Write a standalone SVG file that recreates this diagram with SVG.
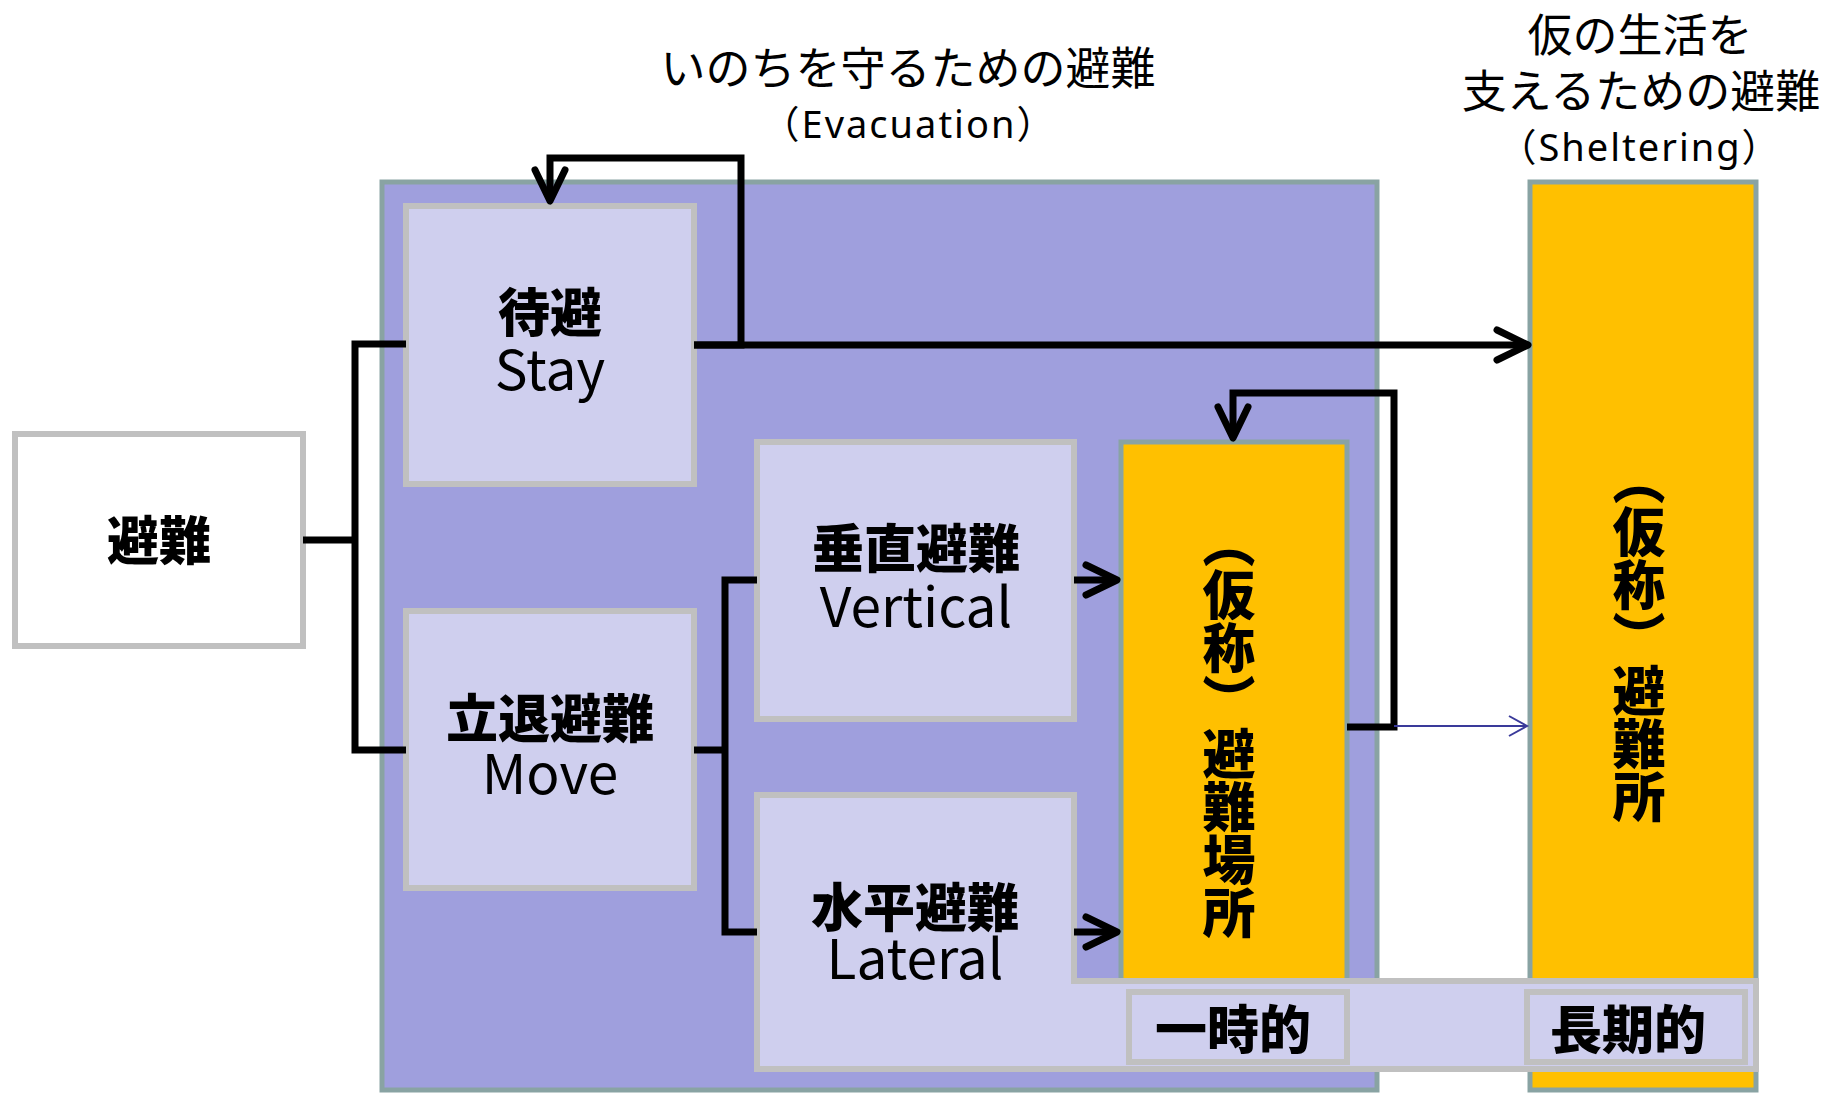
<svg xmlns="http://www.w3.org/2000/svg" width="1838" height="1093" viewBox="0 0 1838 1093">
<style>
.grey{fill:#cfcfee;stroke:#c0c0c0;stroke-width:6}
.white{fill:#ffffff;stroke:#c0c0c0;stroke-width:6}
.orange{fill:#ffc000;stroke:#89a3a3;stroke-width:5}
.purple{fill:#9f9fdd;stroke:#89a3a3;stroke-width:5}
.jp{font-family:"Noto Sans CJK JP","Noto Sans CJK SC",sans-serif;font-weight:900;font-size:52px;fill:#000;text-anchor:middle;dominant-baseline:central}
.en{font-family:"Noto Sans CJK JP","Noto Sans CJK SC",sans-serif;font-weight:400;font-size:55px;fill:#000;text-anchor:middle}
.title{font-family:"Noto Sans CJK JP","Noto Sans CJK SC",sans-serif;font-weight:400;font-size:45px;fill:#000;text-anchor:middle;dominant-baseline:central}
.sub{font-family:"Noto Sans","Noto Sans CJK JP",sans-serif;font-weight:400;font-size:38px;fill:#000;text-anchor:middle;letter-spacing:2px}
.vt{font-family:"Noto Sans CJK JP","Noto Sans CJK SC",sans-serif;font-weight:900;font-size:53px;fill:#000;text-anchor:middle;writing-mode:vertical-rl}
.conn{fill:none;stroke:#000;stroke-width:7;stroke-linejoin:miter}
.thin{fill:none;stroke:#3a3a9a;stroke-width:2}
</style>
<defs>
<marker id="arr" markerUnits="userSpaceOnUse" viewBox="-40 -22 46 44" refX="0" refY="0" markerWidth="46" markerHeight="44" orient="auto" overflow="visible">
<path d="M-31,-15 L0,0 L-31,15" fill="none" stroke="#000" stroke-width="7" stroke-linecap="round" stroke-linejoin="round"/>
</marker>
<marker id="arrThin" markerUnits="userSpaceOnUse" viewBox="-22 -12 26 24" refX="0" refY="0" markerWidth="26" markerHeight="24" orient="auto" overflow="visible">
<path d="M-18,-10 L0,0 L-18,10" fill="none" stroke="#3a3a9a" stroke-width="2"/>
</marker>
</defs>
<rect width="1838" height="1093" fill="#ffffff"/>

<g id="title-evacuation">
<text class="title" x="908" y="65">いのちを守るための避難</text>
<text class="sub" x="909" y="138">（Evacuation）</text>
</g>
<g id="title-sheltering">
<text class="title" x="1640" y="32">仮の生活を</text>
<text class="title" x="1641" y="88">支えるための避難</text>
<text class="sub" x="1640" y="161">（Sheltering）</text>
</g>

<g id="evacuation-area">
<rect class="purple" x="382" y="182" width="995" height="908"/>
</g>
<g id="shelter">
<rect class="orange" x="1530" y="182" width="226" height="908"/>
<text class="vt" x="1639" y="638">（仮称）避難所</text>
</g>

<g id="hinan">
<rect class="white" x="15" y="434" width="288" height="212"/>
<text class="jp" x="159" y="537">避難</text>
</g>
<g id="stay">
<rect class="grey" x="406" y="206" width="288" height="278"/>
<text class="jp" x="550" y="309">待避</text>
<text class="en" x="550" y="390">Stay</text>
</g>
<g id="move">
<rect class="grey" x="406" y="611" width="288" height="277"/>
<text class="jp" x="550" y="715">立退避難</text>
<text class="en" x="550" y="794">Move</text>
</g>
<g id="vertical">
<rect class="grey" x="757" y="442" width="317" height="277"/>
<text class="jp" x="916" y="545">垂直避難</text>
<text class="en" x="916" y="627">Vertical</text>
</g>
<g id="temporary-site">
<rect class="orange" x="1121" y="442" width="226" height="543"/>
<text class="vt" x="1229" y="727">（仮称）避難場所</text>
</g>
<g id="lateral">
<rect class="grey" x="757" y="795" width="317" height="274"/>
<text class="jp" x="915" y="904">水平避難</text>
<text class="en" x="915" y="979">Lateral</text>
</g>
<g id="duration-strip">
<rect class="grey" x="1074" y="981" width="682" height="88"/>
<rect x="1068" y="984" width="14" height="82" fill="#cfcfee"/>
</g>
<g id="temporary-label">
<rect class="grey" x="1129" y="992" width="218" height="70"/>
<text class="jp" x="1233" y="1026">一時的</text>
</g>
<g id="long-term-label">
<rect class="grey" x="1527" y="992" width="218" height="70"/>
<text class="jp" x="1628" y="1026">長期的</text>
</g>

<g id="connectors">
<path class="conn" d="M303,540 H355 M406,344 H355 V750 H406"/>
<path class="conn" d="M694,750 H725 M757,580 H725 V932 H757"/>
<path class="conn" d="M694,345 H741 V158 H550 V201" marker-end="url(#arr)"/>
<path class="conn" d="M694,345 H1528" marker-end="url(#arr)"/>
<path class="conn" d="M1074,580 H1117" marker-end="url(#arr)"/>
<path class="conn" d="M1074,932 H1117" marker-end="url(#arr)"/>
<path class="conn" d="M1347,727 H1394 V393 H1233 V438" marker-end="url(#arr)"/>
<path class="thin" d="M1394,726 H1527" marker-end="url(#arrThin)"/>
</g>
</svg>
